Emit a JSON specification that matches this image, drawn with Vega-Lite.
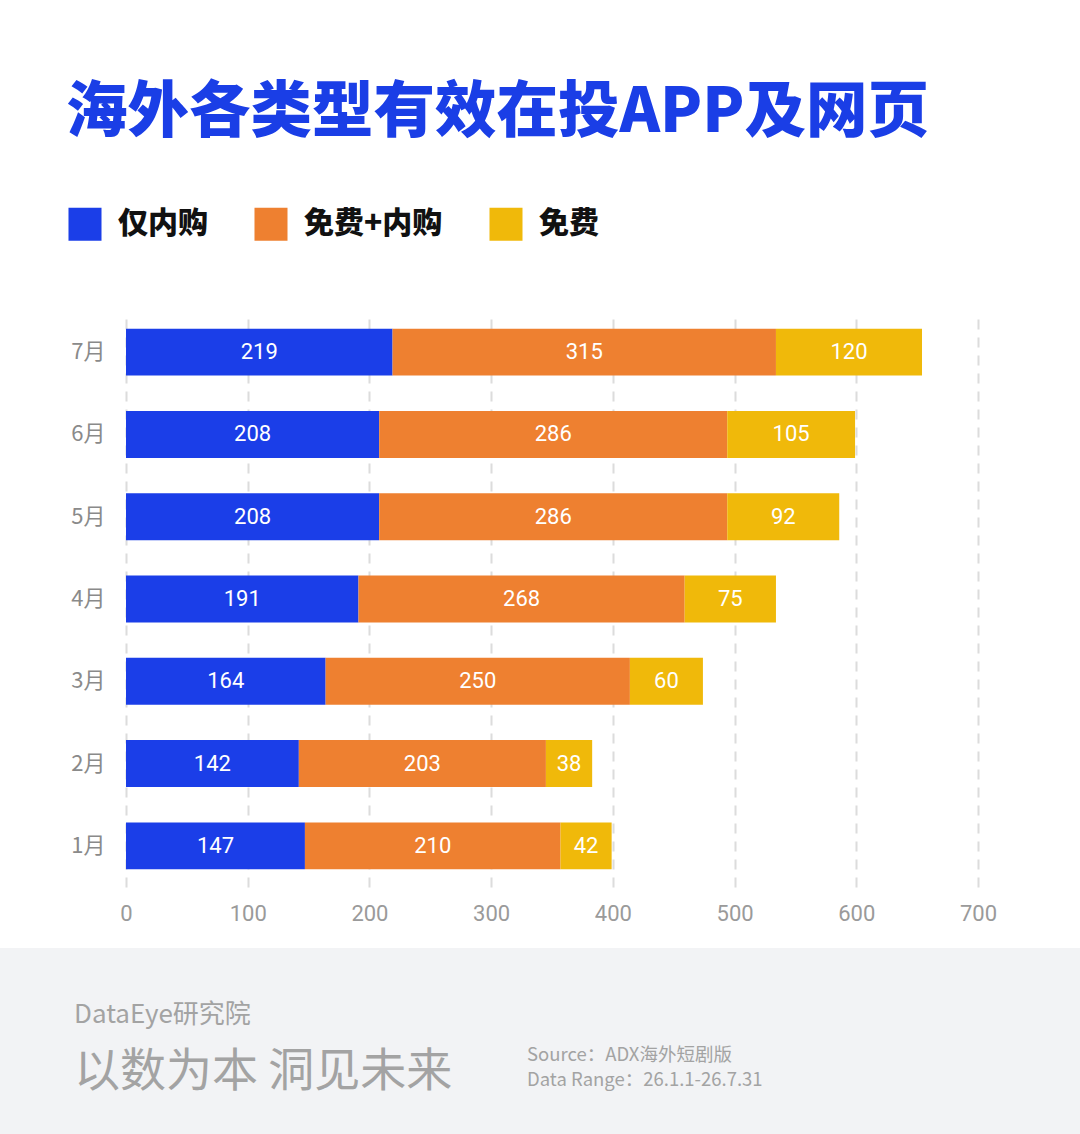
{
  "$schema": "https://vega.github.io/schema/vega-lite/v6.json",
  "background": "#ffffff",
  "padding": {"left": 0, "top": 82, "right": 0, "bottom": 0},
  "title": {
    "text": "海外各类型有效在投APP及网页",
    "anchor": "start",
    "dx": 66,
    "offset": 63,
    "font": "Noto Sans CJK SC",
    "fontSize": 61.5,
    "fontWeight": 900,
    "color": "#1a3ee6"
  },
  "config": {
    "view": {"stroke": null},
    "concat": {"spacing": 24},
    "font": "Noto Sans CJK SC"
  },
  "datasets": {
    "apps": [
      {"month": "7月", "type": "仅内购", "count": 219},
      {"month": "7月", "type": "免费+内购", "count": 315},
      {"month": "7月", "type": "免费", "count": 120},
      {"month": "6月", "type": "仅内购", "count": 208},
      {"month": "6月", "type": "免费+内购", "count": 286},
      {"month": "6月", "type": "免费", "count": 105},
      {"month": "5月", "type": "仅内购", "count": 208},
      {"month": "5月", "type": "免费+内购", "count": 286},
      {"month": "5月", "type": "免费", "count": 92},
      {"month": "4月", "type": "仅内购", "count": 191},
      {"month": "4月", "type": "免费+内购", "count": 268},
      {"month": "4月", "type": "免费", "count": 75},
      {"month": "3月", "type": "仅内购", "count": 164},
      {"month": "3月", "type": "免费+内购", "count": 250},
      {"month": "3月", "type": "免费", "count": 60},
      {"month": "2月", "type": "仅内购", "count": 142},
      {"month": "2月", "type": "免费+内购", "count": 203},
      {"month": "2月", "type": "免费", "count": 38},
      {"month": "1月", "type": "仅内购", "count": 147},
      {"month": "1月", "type": "免费+内购", "count": 210},
      {"month": "1月", "type": "免费", "count": 42}
    ],
    "footerLeft": [
      {"line": "brand", "text": "DataEye研究院"},
      {"line": "slogan", "text": "以数为本 洞见未来"}
    ],
    "footerRight": [
      {"line": "source", "text": "Source：ADX海外短剧版"},
      {"line": "range", "text": "Data Range：26.1.1-26.7.31"}
    ]
  },
  "vconcat": [
    {
      "width": 978,
      "height": 576,
      "data": {"name": "apps"},
      "transform": [
        {"calculate": "indexof(['仅内购','免费+内购','免费'], datum.type)", "as": "ord"},
        {"stack": "count", "groupby": ["month"], "sort": [{"field": "ord"}], "as": ["v0", "v1"]},
        {"calculate": "(datum.v0 + datum.v1) / 2", "as": "mid"}
      ],
      "encoding": {
        "y": {
          "field": "month",
          "type": "nominal",
          "sort": ["7月", "6月", "5月", "4月", "3月", "2月", "1月"],
          "scale": {"paddingInner": 0.43, "paddingOuter": 0.215},
          "axis": {
            "title": null,
            "domain": false,
            "ticks": false,
            "labelFontSize": 22,
            "labelColor": "#8a8a8a",
            "labelAlign": "right",
            "labelPadding": -105
          }
        }
      },
      "layer": [
        {
          "mark": {"type": "bar"},
          "encoding": {
            "x": {
              "field": "v0",
              "type": "quantitative",
              "scale": {"domain": [-103.52, 700], "nice": false, "zero": false},
              "axis": {
                "title": null,
                "values": [0, 100, 200, 300, 400, 500, 600, 700],
                "domain": false,
                "ticks": false,
                "grid": true,
                "gridDash": [10, 8],
                "gridColor": "#dcdcdc",
                "gridWidth": 2,
                "labelFlush": false,
                "labelFontSize": 22,
                "labelColor": "#9a9a9a",
                "labelPadding": 16,
                "labelFont": "Roboto"
              }
            },
            "x2": {"field": "v1"},
            "color": {
              "field": "type",
              "type": "nominal",
              "scale": {
                "domain": ["仅内购", "免费+内购", "免费"],
                "range": ["#1b3ee8", "#ee8030", "#f0b90a"]
              },
              "legend": {
                "title": null,
                "orient": "none",
                "direction": "horizontal",
                "legendX": 68,
                "legendY": -104,
                "symbolType": "square",
                "symbolSize": 1090,
                "symbolStrokeWidth": 0,
                "symbolOpacity": 1,
                "labelFontSize": 30,
                "labelFontWeight": 900,
                "labelColor": "#111111",
                "labelOffset": 16,
                "columnPadding": 46,
                "labelLimit": 300
              }
            }
          }
        },
        {
          "mark": {"type": "text", "color": "#ffffff", "fontSize": 22, "font": "Roboto", "baseline": "middle", "align": "center"},
          "encoding": {
            "x": {"field": "mid", "type": "quantitative"},
            "text": {"field": "count", "type": "quantitative"}
          }
        }
      ]
    },
    {
      "width": 1080,
      "height": 186,
      "view": {"fill": "#f2f3f5", "stroke": null},
      "resolve": {"scale": {"y": "independent", "size": "independent"}},
      "layer": [
        {
          "data": {"name": "footerLeft"},
          "mark": {"type": "text", "align": "left", "baseline": "middle", "color": "#a3a3a3"},
          "encoding": {
            "x": {"value": 74},
            "y": {
              "field": "line",
              "type": "nominal",
              "scale": {"type": "point", "domain": ["brand", "slogan"], "range": [67, 124], "padding": 0},
              "axis": null
            },
            "size": {
              "field": "line",
              "type": "nominal",
              "scale": {"domain": ["brand", "slogan"], "range": [26, 46]},
              "legend": null
            },
            "text": {"field": "text"}
          }
        },
        {
          "data": {"name": "footerRight"},
          "mark": {"type": "text", "align": "left", "baseline": "middle", "color": "#a3a3a3", "fontSize": 18.5},
          "encoding": {
            "x": {"value": 527},
            "y": {
              "field": "line",
              "type": "nominal",
              "scale": {"type": "point", "domain": ["source", "range"], "range": [107, 132], "padding": 0},
              "axis": null
            },
            "text": {"field": "text"}
          }
        }
      ]
    }
  ]
}
